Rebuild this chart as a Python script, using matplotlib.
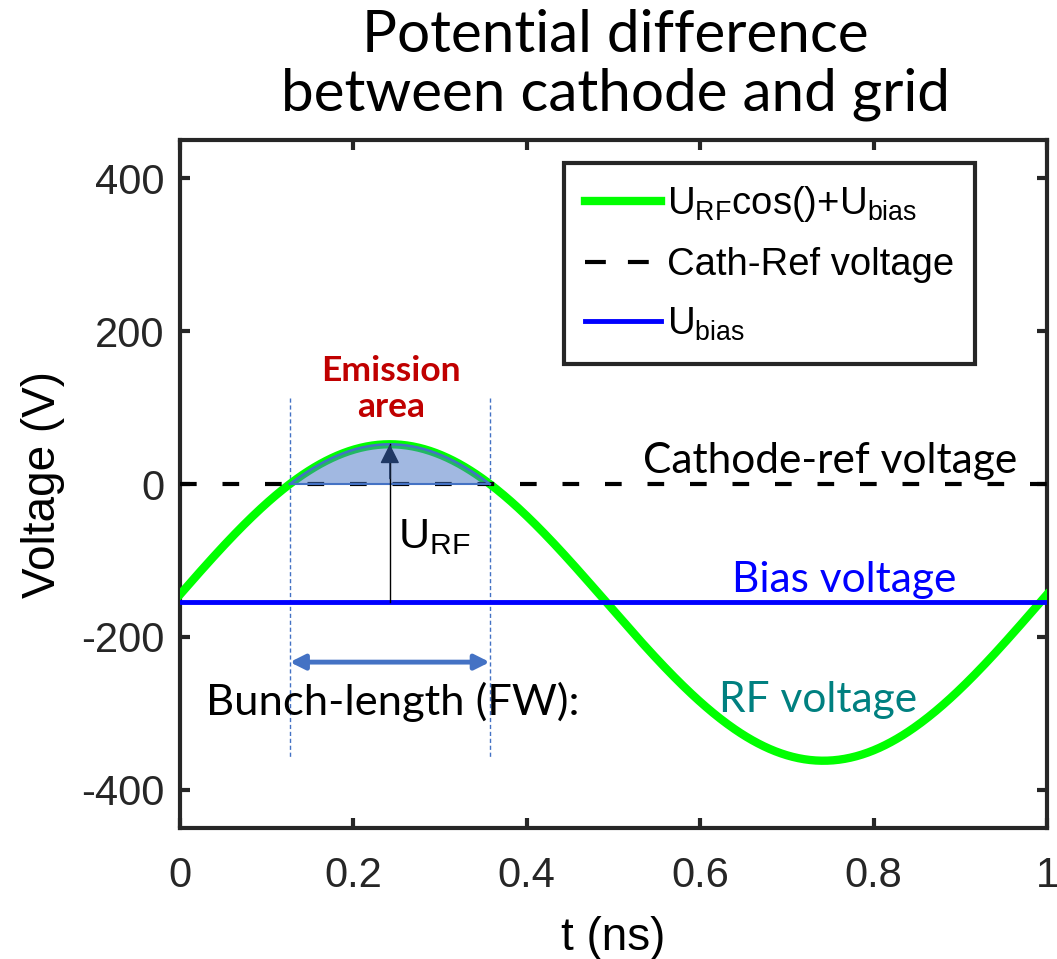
import numpy as np
import matplotlib
matplotlib.use('Agg')
import matplotlib.pyplot as plt
from matplotlib.lines import Line2D

plt.rcParams['font.family'] = ['Liberation Sans', 'DejaVu Sans']
plt.rcParams['mathtext.fontset'] = 'custom'
plt.rcParams['mathtext.rm'] = 'Liberation Sans'
plt.rcParams['axes.unicode_minus'] = False

# Signal parameters (V, ns)
U_RF = 207.
U_bias = -155.
U_cathref = 0.
t_peak = 0.242
period = 1.0

t = np.linspace(0, 1, 601)
u = U_RF * np.cos(2 * np.pi * (t - t_peak) / period) + U_bias

# emission window: where the RF+bias voltage exceeds the cathode-ref level
half_width = np.arccos((U_cathref - U_bias) / U_RF) * period / (2 * np.pi)
t_on, t_off = t_peak - half_width, t_peak + half_width

dark = '#262626'
note_font = ['Lato', 'DejaVu Sans']
fig = plt.figure(figsize=(10.57, 9.59), dpi=100)
ax = fig.add_axes([0.1703, 0.1366, 0.8202, 0.7174])

ax.plot(t, u, color='#00ff00', lw=6, zorder=3)
ax.axhline(U_cathref, color='k', lw=3, dashes=(4, 6.2), zorder=4)
ax.axhline(U_bias, color='#0000ff', lw=3.5, zorder=4)

# shaded emission area
mask = (t >= t_on) & (t <= t_off)
t_em = np.concatenate([[t_on], t[mask], [t_off]])
u_em = np.concatenate([[U_cathref], u[mask], [U_cathref]])
ax.fill_between(t_em, U_cathref, u_em, color='#4472c4', alpha=0.5,
                lw=0, zorder=5)
ax.plot(t_em, u_em, color='#4472c4', lw=1.8, zorder=5)
ax.plot([t_on, t_off], [U_cathref, U_cathref], color='#4472c4', lw=1.5,
        zorder=5)

# window edges and bunch length arrow
for te in (t_on, t_off):
    ax.plot([te, te], [112, -360], color='#4472c4', lw=1, dashes=(3, 2),
            zorder=2)
ax.annotate('', xy=(t_off, -233), xytext=(t_on, -233),
            arrowprops=dict(arrowstyle='<|-|>', color='#4472c4', lw=3.5,
                            mutation_scale=22, shrinkA=0, shrinkB=0),
            zorder=6)

# U_RF amplitude arrow
ax.plot([t_peak, t_peak], [U_bias, U_RF + U_bias], color='k', lw=1,
        zorder=6)
ax.annotate('', xy=(t_peak, U_RF + U_bias), xytext=(t_peak, U_RF + U_bias - 45),
            arrowprops=dict(arrowstyle='-|>', color='#1f3864', lw=1,
                            mutation_scale=30, shrinkA=0, shrinkB=0),
            zorder=7)
ax.text(0.2514, -84, r'$\mathregular{U_{RF}}$', fontsize=31, ha='left',
        va='baseline')

ax.text(0.2434, 124, 'Emission\narea', fontsize=25.5, fontweight='bold',
        color='#c00000', ha='center', va='center', family=note_font,
        linespacing=1.15)
ax.text(0.7497, 14, 'Cathode-ref voltage', fontsize=30.5, ha='center',
        va='baseline', family=note_font)
ax.text(0.766, -141, 'Bias voltage', fontsize=30.5, color='#0000ff',
        ha='center', va='baseline', family=note_font)
ax.text(0.7365, -298, 'RF voltage', fontsize=30.5, color='#008080',
        ha='center', va='baseline', family=note_font)
ax.text(0.2451, -302, 'Bunch-length (FW):', fontsize=31.3, ha='center',
        va='baseline', family=note_font)

ax.set_xlim(0, 1)
ax.set_ylim(-450, 450)
ax.set_xticks([0, 0.2, 0.4, 0.6, 0.8, 1])
ax.set_xticklabels(['0', '0.2', '0.4', '0.6', '0.8', '1'])
ax.set_yticks([-400, -200, 0, 200, 400])
for s in ax.spines.values():
    s.set_linewidth(3)
    s.set_color(dark)
ax.tick_params(direction='in', length=7, width=3, color=dark,
               labelcolor=dark, labelsize=30, top=True, right=True)
ax.tick_params(axis='x', pad=20)
ax.tick_params(axis='y', pad=11)

ax.set_xlabel('t (ns)', fontsize=33)
ax.set_ylabel('Voltage (V)', fontsize=33)
ax.xaxis.set_label_coords(0.5, -0.128)
ax.yaxis.set_label_coords(-0.133, 0.5)

handles = [
    Line2D([], [], color='#00ff00', lw=6),
    Line2D([], [], color='k', lw=3, dashes=(5, 5.3)),
    Line2D([], [], color='#0000ff', lw=3.5),
]
labels = [r'$\mathregular{U_{RF}cos(){+}U_{bias}}$', 'Cath-Ref voltage',
          r'$\mathregular{U_{bias}}$']
leg = ax.legend(handles, labels, loc='upper right',
                bbox_to_anchor=(0.917, 0.9666), borderaxespad=0,
                fontsize=27.5, fancybox=False, framealpha=1,
                edgecolor=dark, handlelength=2.0, handletextpad=0.15,
                labelspacing=0.6, borderpad=0.55)
leg.get_frame().set_linewidth(3)
leg.set_zorder(10)

fig.text(0.582, 0.932, 'Potential difference\nbetween cathode and grid',
         fontsize=42, ha='center', va='center', family=note_font,
         linespacing=1.12)

fig.savefig('out.png', dpi=100)
